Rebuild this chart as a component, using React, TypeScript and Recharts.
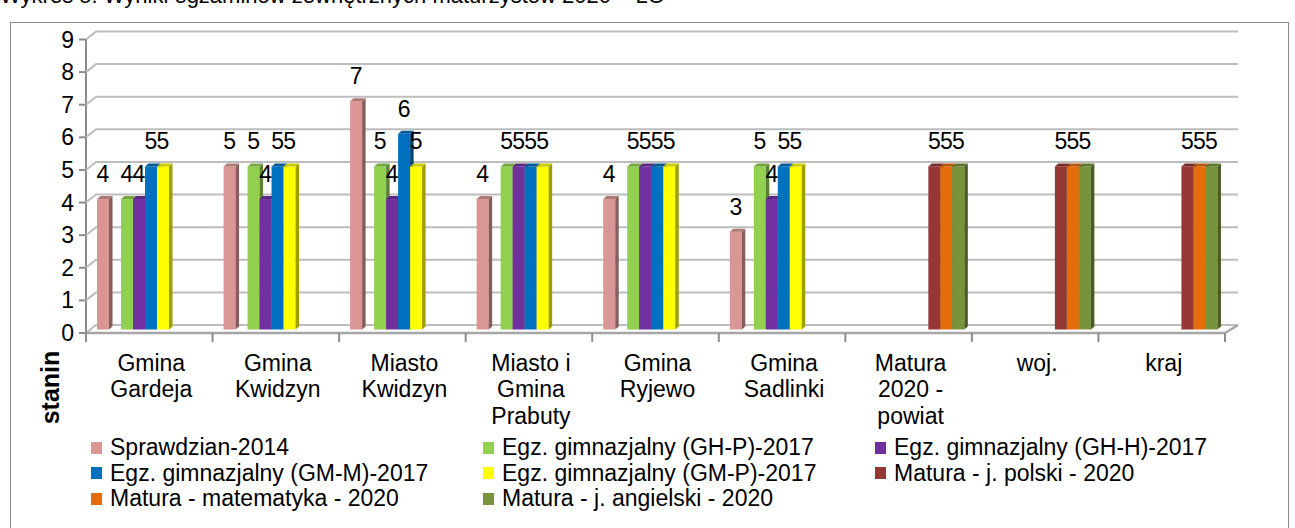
import React from 'react';
import { BarChart, Bar, XAxis, YAxis, CartesianGrid, LabelList, Legend } from 'recharts';

const FONT = '"Liberation Sans", Arial, sans-serif';

const titleText = 'Wykres 5. Wyniki egzaminów zewnętrznych maturzystów 2020 – LO';
const axisTitle = 'stanin';

const categories = [
  'Gmina\nGardeja',
  'Gmina\nKwidzyn',
  'Miasto\nKwidzyn',
  'Miasto i\nGmina\nPrabuty',
  'Gmina\nRyjewo',
  'Gmina\nSadlinki',
  'Matura\n2020 -\npowiat',
  'woj.',
  'kraj',
];

const sprawdzian2014 = [4, 5, 7, 4, 4, 3, null, null, null];
const ghP2017 = [4, 5, 5, 5, 5, 5, null, null, null];
const ghH2017 = [4, 4, 4, 5, 5, 4, null, null, null];
const gmM2017 = [5, 5, 6, 5, 5, 5, null, null, null];
const gmP2017 = [5, 5, 5, 5, 5, 5, null, null, null];
const maturaPolski2020 = [null, null, null, null, null, null, 5, 5, 5];
const maturaMatematyka2020 = [null, null, null, null, null, null, 5, 5, 5];
const maturaAngielski2020 = [null, null, null, null, null, null, 5, 5, 5];
const emptySlot = [null, null, null, null, null, null, null, null, null];

const yTicks = [0, 1, 2, 3, 4, 5, 6, 7, 8, 9];

const series = [
  { key: 's0', name: 'Sprawdzian-2014', color: '#D99694', values: sprawdzian2014, hidden: false },
  { key: 'sx', name: '', color: '#FFFFFF', values: emptySlot, hidden: true },
  { key: 's1', name: 'Egz. gimnazjalny (GH-P)-2017', color: '#92D050', values: ghP2017, hidden: false },
  { key: 's2', name: 'Egz. gimnazjalny (GH-H)-2017', color: '#7030A0', values: ghH2017, hidden: false },
  { key: 's3', name: 'Egz. gimnazjalny (GM-M)-2017', color: '#0070C0', values: gmM2017, hidden: false },
  { key: 's4', name: 'Egz. gimnazjalny (GM-P)-2017', color: '#FFFF00', values: gmP2017, hidden: false },
  { key: 's5', name: 'Matura - j. polski - 2020', color: '#953735', values: maturaPolski2020, hidden: false },
  { key: 's6', name: 'Matura - matematyka - 2020', color: '#E46C0A', values: maturaMatematyka2020, hidden: false },
  { key: 's7', name: 'Matura - j. angielski - 2020', color: '#77933C', values: maturaAngielski2020, hidden: false },
];

const data = categories.map((name, i) => {
  const row: Record<string, any> = { name };
  series.forEach((s) => {
    row[s.key] = s.values[i];
  });
  return row;
});

function shade(hex: string, f: number) {
  const h = hex.replace('#', '');
  const r = Math.round(parseInt(h.slice(0, 2), 16) * f);
  const g = Math.round(parseInt(h.slice(2, 4), 16) * f);
  const b = Math.round(parseInt(h.slice(4, 6), 16) * f);
  return `rgb(${r},${g},${b})`;
}

const Bar3D = (props: any) => {
  const { x, y, width, height, fill } = props;
  if (height == null || height <= 0 || x == null) return null;
  const d = 3.5;
  const dy = 3;
  return (
    <g>
      <rect x={x} y={y} width={width} height={height} fill={fill} />
      <polygon
        points={`${x + width},${y} ${x + width + d},${y - dy} ${x + width + d},${y + height - dy} ${x + width},${y + height}`}
        fill={shade(fill, 0.62)}
      />
      <polygon
        points={`${x},${y} ${x + d},${y - dy} ${x + width + d},${y - dy} ${x + width},${y}`}
        fill={shade(fill, 0.8)}
      />
    </g>
  );
};

const renderGridLine = (p: any) => {
  const { x1, y1, x2, key, y, height } = p;
  const xf = x1 - 2;
  const xb = x1 + 8;
  const xe = x2 + 11;
  const yb = y1 - 4.5;
  const yf = y1 + 3.5;
  const isFloor = y != null && height != null && Math.abs(y1 - (y + height)) < 1;
  return (
    <g key={key}>
      <path d={`M${xf},${yf} L${xb},${yb} L${xe},${yb}`} stroke="#BDBDBD" strokeWidth={2} fill="none" />
      {isFloor && (
        <>
          <path d={`M${xf},${yf} L${x2 - 2},${yf} L${xe},${yb}`} stroke="#A6A6A6" strokeWidth={2.5} fill="none" />
          <path d={`M${xf},${y + 3.5} L${xf},${yf + 9}`} stroke="#8C8C8C" strokeWidth={2} fill="none" />
        </>
      )}
    </g>
  );
};

const YTick = (props: any) => {
  const { x, y, payload } = props;
  return (
    <g>
      <line x1={x - 9} y1={y + 3.5} x2={x - 2} y2={y + 3.5} stroke="#8C8C8C" strokeWidth={2} />
      <text x={x - 14} y={y + 11.5} textAnchor="end" fontSize={23} fontFamily={FONT} fill="#000">
        {payload.value}
      </text>
    </g>
  );
};

const XTick = (props: any) => {
  const { x, y, payload, index } = props;
  const half = payload && typeof payload.offset === 'number' && payload.offset > 0 ? payload.offset : 63.4;
  const lines = String(payload.value).split('\n');
  const left = x - half - 2;
  const right = x + half - 2;
  return (
    <g>
      <line x1={left} y1={y + 3.5} x2={left} y2={y + 12.5} stroke="#8C8C8C" strokeWidth={2} />
      {index === categories.length - 1 && (
        <line x1={right} y1={y + 3.5} x2={right} y2={y + 12.5} stroke="#8C8C8C" strokeWidth={2} />
      )}
      <text textAnchor="middle" fontSize={23} fontFamily={FONT} fill="#000">
        {lines.map((l, i) => (
          <tspan key={i} x={x} y={y + 41 + i * 26.5}>
            {l}
          </tspan>
        ))}
      </text>
    </g>
  );
};

const StaninLabel = (props: any) => {
  const vb = props.viewBox || { x: 48, y: 36, width: 40, height: 293.5 };
  const cx = vb.x + 11;
  const cy = vb.y + vb.height + 58;
  return (
    <text
      x={cx}
      y={cy}
      transform={`rotate(-90, ${cx}, ${cy})`}
      textAnchor="middle"
      fontSize={25}
      fontWeight="bold"
      fontFamily={FONT}
      fill="#000"
    >
      {axisTitle}
    </text>
  );
};

const LegendBlock = (props: any) => {
  const payload = props.payload || [];
  const items = series
    .filter((s) => !s.hidden)
    .map((s) => {
      const e = payload.find((p: any) => p.value === s.name);
      return { name: s.name, color: (e && e.color) || s.color };
    });
  return (
    <div
      style={{
        display: 'grid',
        gridTemplateColumns: '392px 392px 392px',
        fontSize: 23,
        lineHeight: '25.5px',
        fontFamily: FONT,
        color: '#000',
      }}
    >
      {items.map((e) => (
        <div key={e.name} style={{ display: 'flex', alignItems: 'center', whiteSpace: 'nowrap' }}>
          <span style={{ display: 'inline-block', width: 11, height: 12, background: e.color, marginRight: 8 }} />
          <span>{e.name}</span>
        </div>
      ))}
    </div>
  );
};

export default function App() {
  return (
    <div style={{ position: 'absolute', left: 0, top: 0, width: 1295, height: 528, overflow: 'hidden', background: '#fff', fontFamily: FONT }}>
      <div
        style={{
          position: 'absolute',
          left: 0,
          top: -17,
          fontSize: 22,
          lineHeight: '25px',
          whiteSpace: 'nowrap',
          color: '#000',
          fontFamily: FONT,
        }}
      >
        {titleText}
      </div>
      <div
        style={{
          position: 'absolute',
          left: 10,
          top: 22,
          width: 1279,
          height: 520,
          border: '1.5px solid #8C8C8C',
          boxSizing: 'border-box',
        }}
      />
      <div style={{ position: 'absolute', left: 0, top: 0 }}>
        <BarChart
          width={1295}
          height={528}
          data={data}
          margin={{ top: 36, right: 68, bottom: 138.5, left: 48 }}
          barSize={12}
          barGap={0}
          style={{ fontFamily: FONT }}
        >
          <CartesianGrid vertical={false} horizontal={renderGridLine} />
          <XAxis
            dataKey="name"
            axisLine={false}
            tickLine={false}
            tickSize={0}
            tickMargin={0}
            height={60}
            interval={0}
            tick={<XTick />}
          />
          <YAxis
            domain={[0, 9]}
            ticks={yTicks}
            interval={0}
            axisLine={false}
            tickLine={false}
            tickSize={0}
            tickMargin={0}
            width={40}
            tick={<YTick />}
            label={<StaninLabel />}
          />
          <Legend
            layout="horizontal"
            verticalAlign="middle"
            align="center"
            wrapperStyle={{ top: 435, left: 91, width: 1190, height: 80 }}
            content={<LegendBlock />}
          />
          {series.map((s) => (
            <Bar
              key={s.key}
              dataKey={s.key}
              name={s.name}
              fill={s.color}
              legendType={s.hidden ? 'none' : 'square'}
              isAnimationActive={false}
              shape={<Bar3D />}
            >
              {!s.hidden && (
                <LabelList dataKey={s.key} position="top" offset={17} fontSize={23} fontFamily={FONT} fill="#000" />
              )}
            </Bar>
          ))}
        </BarChart>
      </div>
    </div>
  );
}
